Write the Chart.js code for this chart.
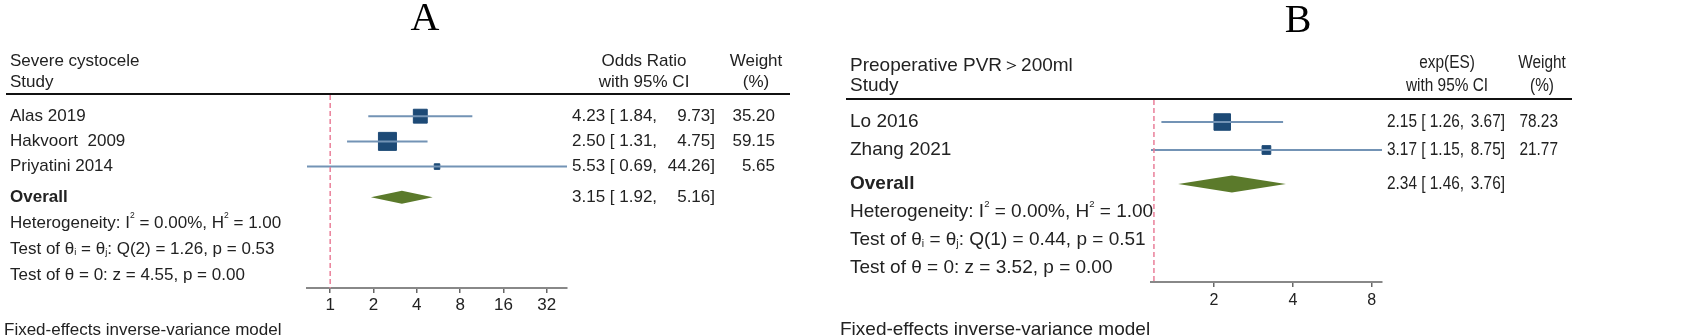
<!DOCTYPE html>
<html lang="en">
<head>
<meta charset="UTF-8" />
<title>Forest plots</title>
<script src="https://cdn.jsdelivr.net/npm/chart.js"></script>
<style>
  html, body { margin: 0; padding: 0; background: #fff; }
  #wrap { position: relative; width: 1692px; height: 336px; overflow: hidden; background: #fff; }
  canvas { position: absolute; top: 0; }
  #chartA { left: 0; }
  #chartB { left: 830px; }
</style>
</head>
<body>
<div id="wrap">
  <canvas id="chartA" width="830" height="336"></canvas>
  <canvas id="chartB" width="862" height="336"></canvas>
</div>
<script>
// Panel A: severe cystocele, odds ratios
const studiesA = ['Alas 2019', 'Hakvoort  2009', 'Priyatini 2014'];
const estA = [4.23, 2.50, 5.53];
const lowA = [1.84, 1.31, 0.69];
const highA = [9.73, 4.75, 44.26];
const weightA = [35.20, 59.15, 5.65];
const overallA = [3.15, 1.92, 5.16];   // estimate, low, high
const ticksA = [1, 2, 4, 8, 16, 32];
const refA = 1;
const statsA = [
    [['Heterogeneity: I'], ['2', 'sup'], [' = 0.00%, H'], ['2', 'sup'], [' = 1.00']],
    [['Test of θ'], ['i', 'sub'], [' = θ'], ['j', 'sub'], [': Q(2) = 1.26, p = 0.53']],
    [['Test of θ = 0: z = 4.55, p = 0.00']]
];

// Panel B: preoperative PVR > 200ml, exp(ES)
const studiesB = ['Lo 2016', 'Zhang 2021'];
const estB = [2.15, 3.17];
const lowB = [1.26, 1.15];
const highB = [3.67, 8.75];
const weightB = [78.23, 21.77];
const overallB = [2.34, 1.46, 3.76];
const ticksB = [2, 4, 8];
const refB = 1.18;
const statsB = [
    [['Heterogeneity: I'], ['2', 'sup'], [' = 0.00%, H'], ['2', 'sup'], [' = 1.00']],
    [['Test of θ'], ['i', 'sub'], [' = θ'], ['j', 'sub'], [': Q(1) = 0.44, p = 0.51']],
    [['Test of θ = 0: z = 3.52, p = 0.00']]
];

const SANS = '"Liberation Sans", Arial, sans-serif';
const INK = '#222';

function fmt(v) { return v.toFixed(2); }

function drawRich(ctx, parts, x, y, size) {
    let cx = x;
    parts.forEach(([t, mode]) => {
        let s = size, dy = 0;
        if (mode === 'sup') { s = size * 0.5; dy = -size * 0.42; }
        if (mode === 'sub') { s = size * 0.55; dy = size * 0.2; }
        ctx.font = `${s}px ${SANS}`;
        ctx.fillText(t, cx, y + dy);
        cx += ctx.measureText(t).width;
    });
}

// text squeezed horizontally (right-hand columns of panel B are narrower)
function fillSq(ctx, text, x, y, sx) {
    ctx.save();
    ctx.translate(x, y);
    ctx.scale(sx, 1);
    ctx.fillText(text, 0, 0);
    ctx.restore();
}

function makeForest(id, p) {
    const canvas = document.getElementById(id);
    const W = canvas.width, H = canvas.height;
    const rows = p.studies.map((s, i) => i + 1);
    const maxW = Math.max(...p.weight);

    const ciSets = p.studies.map((s, i) => ({
        type: 'line',
        data: [{ x: p.low[i], y: rows[i] }, { x: p.high[i], y: rows[i] }],
        borderColor: '#7393b5', borderWidth: 2, pointRadius: 0
    }));
    const squares = {
        type: 'scatter',
        data: p.est.map((v, i) => ({ x: v, y: rows[i] })),
        pointStyle: 'rect',
        pointRadius: p.weight.map(w => p.box * Math.sqrt(w / maxW) / Math.SQRT2),
        backgroundColor: '#1d4a76', borderColor: '#1d4a76', borderWidth: 1
    };
    const refLine = {
        type: 'line',
        data: [{ x: p.ref, y: p.refTop }, { x: p.ref, y: p.yMax }],
        borderColor: '#ea7f99', borderWidth: 1.5, borderDash: [5, 3], pointRadius: 0
    };

    const forestDecor = {
        id: 'forestDecor',
        afterDatasetsDraw(chart) {
            // pooled estimate diamond
            const ctx = chart.ctx, xs = chart.scales.x, ys = chart.scales.y;
            const yc = ys.getPixelForValue(p.overallRow);
            ctx.save();
            ctx.fillStyle = '#5b7a2b';
            ctx.beginPath();
            ctx.moveTo(xs.getPixelForValue(p.overall[1]), yc);
            ctx.lineTo(xs.getPixelForValue(p.overall[0]), yc - p.diamond);
            ctx.lineTo(xs.getPixelForValue(p.overall[2]), yc);
            ctx.lineTo(xs.getPixelForValue(p.overall[0]), yc + p.diamond);
            ctx.closePath();
            ctx.fill();
            ctx.restore();
        },
        afterDraw(chart) {
            const ctx = chart.ctx, ys = chart.scales.y;
            const sx = p.colSqueeze;
            ctx.save();

            // panel letter
            ctx.font = `40px "Liberation Serif", "Times New Roman", serif`;
            ctx.textAlign = 'center';
            ctx.textBaseline = 'alphabetic';
            ctx.fillStyle = '#000';
            ctx.fillText(p.title, p.titleX, p.titleY);
            ctx.fillStyle = INK;

            // headers
            ctx.textBaseline = 'middle';
            ctx.textAlign = 'left';
            ctx.font = `${p.font}px ${SANS}`;
            ctx.fillText(p.head[0], p.textX, p.headY[0]);
            ctx.fillText('Study', p.textX, p.headY[1]);
            ctx.textAlign = 'center';
            ctx.font = `${p.colFont}px ${SANS}`;
            fillSq(ctx, p.colHead, p.colX, p.colHeadY[0], sx);
            fillSq(ctx, 'with 95% CI', p.colX, p.colHeadY[1], sx);
            fillSq(ctx, 'Weight', p.wX, p.colHeadY[0], sx);
            fillSq(ctx, '(%)', p.wX, p.colHeadY[1], sx);

            ctx.strokeStyle = '#111';
            ctx.lineWidth = 2;
            ctx.beginPath();
            ctx.moveTo(p.lineX[0], p.lineY);
            ctx.lineTo(p.lineX[1], p.lineY);
            ctx.stroke();

            // study rows
            p.studies.forEach((s, i) => {
                const y = ys.getPixelForValue(rows[i]);
                ctx.font = `${p.font}px ${SANS}`;
                ctx.textAlign = 'left';
                ctx.fillText(s, p.textX, y);
                ctx.font = `${p.colFont}px ${SANS}`;
                fillSq(ctx, `${fmt(p.est[i])} [ ${fmt(p.low[i])},`, p.valX, y, sx);
                ctx.textAlign = 'right';
                fillSq(ctx, `${fmt(p.high[i])}]`, p.valEnd, y, sx);
                fillSq(ctx, fmt(p.weight[i]), p.wEnd, y, sx);
            });

            // overall row
            const yo = ys.getPixelForValue(p.overallRow);
            ctx.textAlign = 'left';
            ctx.font = `bold ${p.font}px ${SANS}`;
            ctx.fillText('Overall', p.textX, yo);
            ctx.font = `${p.colFont}px ${SANS}`;
            fillSq(ctx, `${fmt(p.overall[0])} [ ${fmt(p.overall[1])},`, p.valX, yo, sx);
            ctx.textAlign = 'right';
            fillSq(ctx, `${fmt(p.overall[2])}]`, p.valEnd, yo, sx);

            // heterogeneity and tests
            ctx.textAlign = 'left';
            p.stats.forEach((parts, i) => {
                drawRich(ctx, parts, p.textX, ys.getPixelForValue(p.statRows[i]), p.font);
            });

            // footer
            ctx.textBaseline = 'alphabetic';
            ctx.font = `${p.font}px ${SANS}`;
            ctx.fillText('Fixed-effects inverse-variance model', p.footX, 335);
            ctx.restore();
        }
    };

    return new Chart(canvas, {
        data: { datasets: [refLine, ...ciSets, squares] },
        options: {
            responsive: false,
            animation: false,
            layout: { padding: { left: p.areaLeft, right: W - p.areaRight, top: p.areaTop, bottom: 0 } },
            plugins: { legend: { display: false }, tooltip: { enabled: false } },
            scales: {
                x: {
                    type: 'logarithmic',
                    position: 'bottom',
                    min: Math.min(...p.low),
                    max: Math.max(...p.high),
                    afterBuildTicks: s => { s.ticks = p.ticks.map(v => ({ value: v })); },
                    afterFit: s => { s.height = H - p.axisY; },
                    ticks: {
                        callback: v => String(v),
                        autoSkip: false, maxRotation: 0,
                        padding: p.tickPad,
                        color: INK,
                        font: { family: SANS, size: p.tickFont }
                    },
                    grid: { drawOnChartArea: false, drawTicks: true, tickLength: 5, color: '#666', lineWidth: 1.5 },
                    border: { display: true, color: '#888', width: 2 }
                },
                y: { type: 'linear', display: false, reverse: true, min: 0, max: p.yMax }
            }
        },
        plugins: [forestDecor]
    });
}

makeForest('chartA', {
    studies: studiesA, est: estA, low: lowA, high: highA, weight: weightA,
    overall: overallA, ticks: ticksA, ref: refA, stats: statsA,
    title: 'A', titleX: 425, titleY: 30,
    head: ['Severe cystocele'], headY: [61, 82],
    colHead: 'Odds Ratio', colHeadY: [61, 82], colX: 644, wX: 756,
    lineX: [6, 790], lineY: 94,
    areaLeft: 307, areaRight: 567, areaTop: 91, axisY: 288, yMax: 7.82,
    refTop: 0.16, overallRow: 4.22, statRows: [5.25, 6.28, 7.31],
    textX: 10, valX: 572, valEnd: 715, wEnd: 775, footX: 4,
    font: 17, colFont: 17, colSqueeze: 1, tickFont: 17, tickPad: 2,
    box: 18, diamond: 6.5
});

makeForest('chartB', {
    studies: studiesB, est: estB, low: lowB, high: highB, weight: weightB,
    overall: overallB, ticks: ticksB, ref: refB, stats: statsB,
    title: 'B', titleX: 468, titleY: 32,
    head: ['Preoperative PVR＞200ml'], headY: [66, 86],
    colHead: 'exp(ES)', colHeadY: [63, 86], colX: 617, wX: 712,
    lineX: [16, 742], lineY: 99,
    areaLeft: 321, areaRight: 552, areaTop: 94, axisY: 282, yMax: 6.714,
    refTop: 0.21, overallRow: 3.21, statRows: [4.21, 5.21, 6.21],
    textX: 20, valX: 557, valEnd: 675, wEnd: 728, footX: 10,
    font: 19, colFont: 17.5, colSqueeze: 0.88, tickFont: 16, tickPad: 4,
    box: 16.5, diamond: 8.5
});
</script>
</body>
</html>
